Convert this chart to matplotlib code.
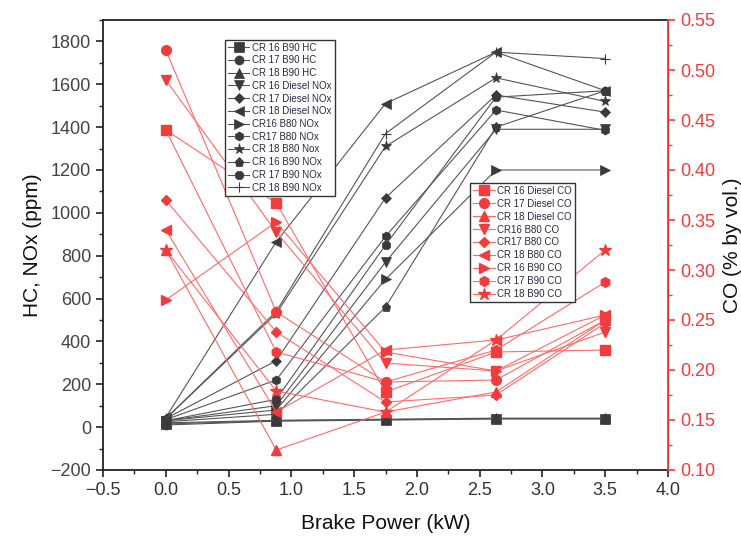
import matplotlib
matplotlib.use("Agg")
import matplotlib.pyplot as plt
from matplotlib.ticker import MultipleLocator

plt.rcParams['font.family'] = ['Liberation Sans', 'DejaVu Sans']

power = [0.0, 0.88, 1.75, 2.63, 3.5]

# Left axis (HC, NOx ppm)
black_labels = ["CR 16 B90 HC", "CR 17 B90 HC", "CR 18 B90 HC",
                "CR 16 Diesel NOx", "CR 17 Diesel NOx", "CR 18 Diesel NOx",
                "CR16 B80 NOx", "CR17 B80 NOx", "CR 18 B80 Nox",
                "CR 16 B90 NOx", "CR 17 B90 NOx", "CR 18 B90 NOx"]
hc16_b90 = [15, 30, 35, 40, 40]
hc17_b90 = [10, 28, 33, 38, 38]
hc18_b90 = [20, 32, 37, 42, 42]
nox16_diesel = [30, 100, 770, 1390, 1390]
nox17_diesel = [40, 310, 1070, 1550, 1470]
nox18_diesel = [45, 865, 1510, 1750, 1570]
nox16_b80 = [30, 80, 690, 1200, 1200]
nox17_b80 = [35, 220, 890, 1480, 1385]
nox18_b80 = [40, 530, 1310, 1630, 1520]
nox16_b90 = [25, 60, 560, 1400, 1570]
nox17_b90 = [30, 130, 850, 1540, 1570]
nox18_b90 = [40, 540, 1370, 1750, 1720]
black_series = [hc16_b90, hc17_b90, hc18_b90, nox16_diesel, nox17_diesel,
                nox18_diesel, nox16_b80, nox17_b80, nox18_b80, nox16_b90,
                nox17_b90, nox18_b90]
black_markers = ['s', 'o', '^', 'v', 'D', '<', '>', 'h', '*', 'p', '8', '+']

# Right axis (CO % by vol.)
red_labels = ["CR 16 Diesel CO", "CR 17 Diesel CO", "CR 18 Diesel CO",
              "CR16 B80 CO", "CR17 B80 CO", "CR 18 B80 CO",
              "CR 16 B90 CO", "CR 17 B90 CO", "CR 18 B90 CO"]
co16_diesel = [0.44, 0.367, 0.178, 0.218, 0.22]
co17_diesel = [0.52, 0.258, 0.188, 0.19, 0.25]
co18_diesel = [0.32, 0.12, 0.158, 0.178, 0.25]
co16_b80 = [0.49, 0.338, 0.207, 0.199, 0.238]
co17_b80 = [0.37, 0.238, 0.168, 0.175, 0.247]
co18_b80 = [0.34, 0.158, 0.22, 0.23, 0.255]
co16_b90 = [0.27, 0.348, 0.218, 0.199, 0.255]
co17_b90 = [0.44, 0.218, 0.188, 0.22, 0.288]
co18_b90 = [0.32, 0.179, 0.158, 0.23, 0.32]
red_series = [co16_diesel, co17_diesel, co18_diesel, co16_b80, co17_b80,
              co18_b80, co16_b90, co17_b90, co18_b90]
red_markers = ['s', 'o', '^', 'v', 'D', '<', '>', 'h', '*']

fig = plt.figure(figsize=(7.41, 5.42), dpi=100)
ax = fig.add_axes([103/741, 72/542, 565/741, 450/542])
ax2 = ax.twinx()

BLK = '#3a3a3a'
RED = '#f03c3c'
RLINE = '#ff6a6a'

black_handles = []
for vals, m, lab in zip(black_series, black_markers, black_labels):
    ms = 6.5
    if m == 'D':
        ms = 5
    if m == '*':
        ms = 8
    if m == '+':
        ms = 7
    h, = ax.plot(power, vals, marker=m, color='#555555', lw=0.8,
                 markerfacecolor=BLK, markeredgecolor=BLK, ms=ms,
                 markeredgewidth=0.8 if m == '+' else 0.5, label=lab)
    black_handles.append(h)

red_handles = []
for vals, m, lab in zip(red_series, red_markers, red_labels):
    ms = 7
    if m == 'D':
        ms = 5.5
    if m == '*':
        ms = 9
    h, = ax2.plot(power, vals, marker=m, color=RLINE, lw=0.8,
                  markerfacecolor=RED, markeredgecolor=RED, ms=ms, label=lab)
    red_handles.append(h)

ax.set_xlim(-0.5, 4.0)
ax.set_ylim(-200, 1900)
ax2.set_ylim(0.10, 0.55)

ax.xaxis.set_major_locator(MultipleLocator(0.5))
ax.xaxis.set_minor_locator(MultipleLocator(0.25))
ax.yaxis.set_major_locator(MultipleLocator(200))
ax.yaxis.set_minor_locator(MultipleLocator(100))
ax2.yaxis.set_major_locator(MultipleLocator(0.05))
ax2.yaxis.set_minor_locator(MultipleLocator(0.025))
ax.set_xticks([-0.5, 0.0, 0.5, 1.0, 1.5, 2.0, 2.5, 3.0, 3.5, 4.0])
ax.set_xticklabels(['\u22120.5', '0.0', '0.5', '1.0', '1.5', '2.0', '2.5', '3.0', '3.5', '4.0'])
ax.set_yticks(list(range(-200, 1801, 200)))
ax.set_yticklabels(['\u2212200'] + [str(v) for v in range(0, 1801, 200)])
ax2.set_yticks([0.10, 0.15, 0.20, 0.25, 0.30, 0.35, 0.40, 0.45, 0.50, 0.55])
ax2.set_yticklabels(['0.10', '0.15', '0.20', '0.25', '0.30', '0.35', '0.40', '0.45', '0.50', '0.55'])

ax.tick_params(axis='both', which='major', direction='out', length=5, width=1.2,
               labelsize=13, colors='#222222')
ax.tick_params(axis='both', which='minor', direction='out', length=3, width=1.0, colors='#222222')
ax.tick_params(axis='x', labelcolor='#333333')
ax.tick_params(axis='y', labelcolor='#444444')
ax.tick_params(axis='y', which='both', right=False)
ax2.tick_params(axis='y', which='major', direction='out', length=5, width=1.2,
                labelsize=13, colors=RED)
ax2.tick_params(axis='y', which='minor', direction='out', length=3, width=1.0, colors=RED)

for s in ['left', 'bottom', 'top']:
    ax.spines[s].set_linewidth(1.3)
    ax.spines[s].set_color('#222222')
ax2.spines['right'].set_color(RED)
ax2.spines['right'].set_linewidth(1.3)
for s in ['left', 'bottom', 'top']:
    ax2.spines[s].set_visible(False)

ax.set_xlabel('Brake Power (kW)', fontsize=15, color='#111111', labelpad=11)
ax.set_ylabel('HC, NOx (ppm)', fontsize=15, color='#111111', labelpad=6)
ax2.set_ylabel('CO (% by vol.)', fontsize=15, color='#111111', labelpad=6)

leg1 = ax2.legend(handles=black_handles, loc='upper left',
                  bbox_to_anchor=(0.216, 0.956), borderaxespad=0,
                  fontsize=7, frameon=True, fancybox=False, edgecolor='#333333',
                  handlelength=2.2, handletextpad=0.3, labelspacing=0.28,
                  borderpad=0.3, framealpha=1)
leg1.get_frame().set_linewidth(1.0)
for t in leg1.get_texts():
    t.set_color('#2a2a40')
ax2.add_artist(leg1)
leg2 = ax2.legend(handles=red_handles, loc='upper left',
                  bbox_to_anchor=(0.65, 0.638), borderaxespad=0,
                  fontsize=7, frameon=True, fancybox=False, edgecolor='#333333',
                  handlelength=2.2, handletextpad=0.3, labelspacing=0.3,
                  borderpad=0.3, framealpha=1)
leg2.get_frame().set_linewidth(1.0)
for t in leg2.get_texts():
    t.set_color('#2a2a40')

fig.savefig('out.png', dpi=100)
